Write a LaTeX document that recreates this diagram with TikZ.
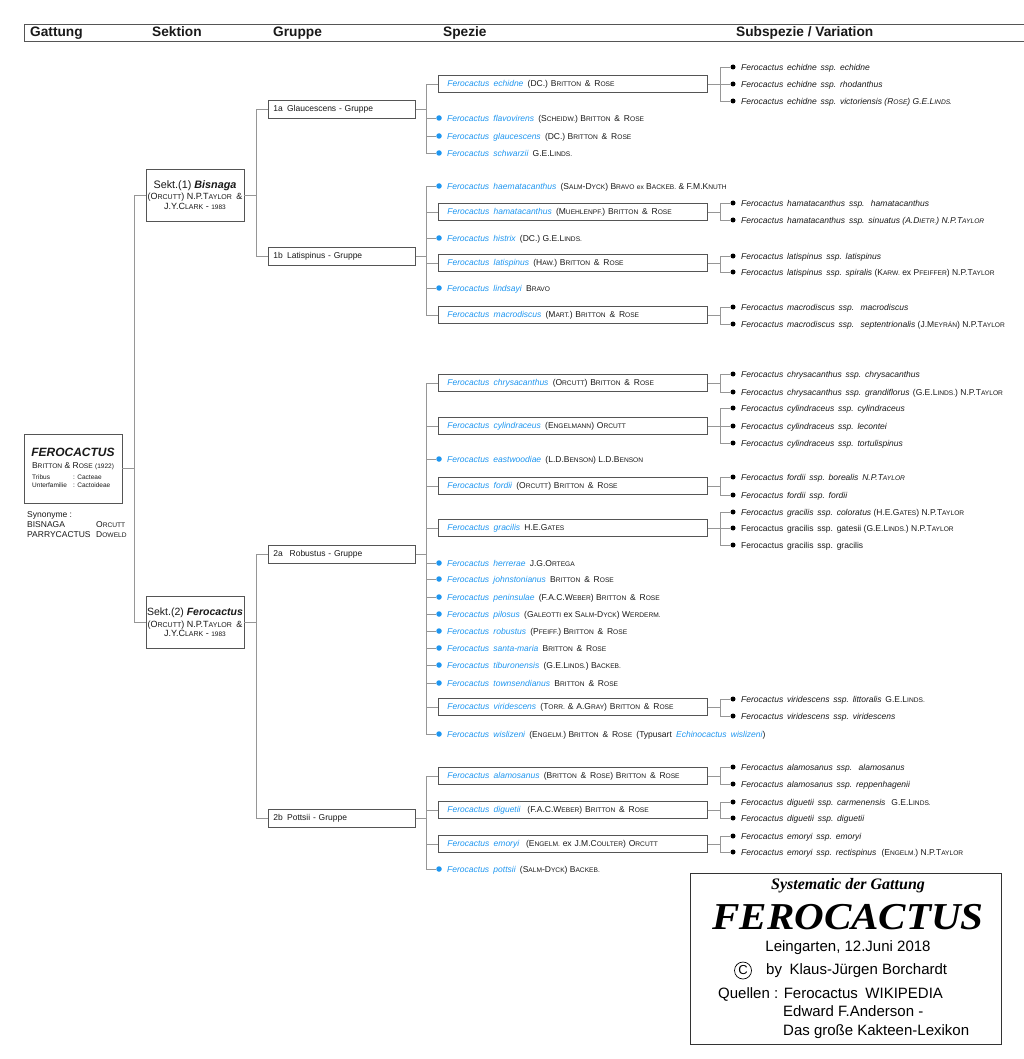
\documentclass[tikz,border=0pt]{standalone}
\usepackage{fontspec}
\usepackage{graphicx}
\setmainfont{Liberation Sans}
\newfontfamily\serifont{Liberation Serif}
\definecolor{fblue}{RGB}{30,150,240}
\definecolor{linegray}{RGB}{150,150,150}
\definecolor{boxgray}{RGB}{85,85,85}
\definecolor{textdark}{RGB}{25,25,25}
\makeatletter
\def\fsc#1{\fsc@#1\@nil}
\def\fsc@#1#2\@nil{#1{\fontsize{\fpeval{0.78*\f@size}}{1}\selectfont\MakeUppercase{#2}}}
\newcommand\smx[1]{{\fontsize{\fpeval{0.78*\f@size}}{1}\selectfont #1}}
\makeatother
\newcommand\spfont{\fontsize{8.5}{10}\selectfont}
\newcommand\sspfont{\fontsize{8.5}{10}\selectfont}
\newcommand\BR{\fsc{Britton}\hspace{.45em}\&\hspace{.45em}\fsc{Rose}}
\newcommand\spn[2]{{\color{fblue}\itshape Ferocactus\hspace{.5em}#1}\hspace{.5em}#2}
\newcommand\ssn[2]{\itshape Ferocactus\hspace{.45em}#1\hspace{.45em}ssp.\hspace{.45em}#2}
\newcommand\dotsp[3]{\node[bdot] (d#1) at (439,#2) {}; \node[sptext] (t#1) at (447,#2) {#3};}
\newcommand\boxsp[3]{\node[spbox] (d#1) at (438,#2) {#3};}
\newcommand\subsp[3]{\node[kdot] (k#1) at (733,#2) {}; \node[ssptext] (s#1) at (741,#2) {#3};}
\tikzset{
  conn/.style={draw=linegray, line width=0.8pt},
  spbox/.style={draw=boxgray, line width=0.8pt, anchor=west, text width=251pt, inner xsep=9pt, inner ysep=0pt, minimum height=17pt, align=left, font=\spfont, text=textdark},
  sptext/.style={anchor=mid west, inner sep=0pt, font=\spfont, text=textdark, yshift=-0.8pt},
  bdot/.style={circle, fill=fblue, inner sep=0pt, minimum size=5.5pt},
  kdot/.style={circle, fill=black, inner sep=0pt, minimum size=5pt},
  ssptext/.style={anchor=mid west, inner sep=0pt, font=\sspfont, text=textdark, yshift=-0.8pt},
  grpbox/.style={draw=boxgray, line width=0.8pt, anchor=west, text width=137pt, inner xsep=5pt, inner ysep=0pt, minimum height=18pt, align=left, font=\spfont, text=textdark},
  sektbox/.style={draw=boxgray, line width=0.9pt, minimum width=98pt, minimum height=52pt, align=center, inner sep=1pt, text=textdark, font=\fontsize{9}{9.5}\selectfont},
  hdrtext/.style={anchor=mid west, inner sep=0pt, font=\fontsize{13.7}{15}\selectfont\bfseries, text=textdark},
  plain/.style={inner sep=0pt, text=textdark},
}
\begin{document}
\begin{tikzpicture}[x=1pt, y=-1pt]
\useasboundingbox (0,0) rectangle (1024,1059);
\fill[white] (0,0) rectangle (1024,1059);

% header
\draw[draw=boxgray, line width=0.8pt] (1024,24) -- (24,24) -- (24,41) -- (1024,41);
\node[hdrtext] (hgat) at (30,34) {Gattung};
\node[hdrtext] (hsek) at (152,34) {Sektion};
\node[hdrtext] (hgru) at (273,34) {Gruppe};
\node[hdrtext] (hspe) at (443,34) {Spezie};
\node[hdrtext] (hsub) at (736,34) {Subspezie / Variation};

% root
\node[draw=boxgray, line width=0.9pt, minimum width=98pt, minimum height=69pt] (root) at (73,468.5) {};
\node[plain, font=\fontsize{12}{14}\selectfont\bfseries\itshape] (rtitle) at (73,452) {FEROCACTUS};
\node[plain, font=\fontsize{8.5}{10}\selectfont] (rauth) at (73,466) {\fsc{Britton} \& \fsc{Rose} {\fontsize{6.5}{7}\selectfont(1922)}};
\node[plain, anchor=mid west, font=\fontsize{6.5}{7}\selectfont] (rtrib) at (32,477) {Tribus};
\node[plain, anchor=mid west, font=\fontsize{6.5}{7}\selectfont] (rtribv) at (73,477) {: Cacteae};
\node[plain, anchor=mid west, font=\fontsize{6.5}{7}\selectfont] (runt) at (32,485) {Unterfamilie};
\node[plain, anchor=mid west, font=\fontsize{6.5}{7}\selectfont] (runtv) at (73,485) {: Cactoideae};
\node[plain, anchor=mid west, font=\fontsize{8.5}{10}\selectfont] (syn) at (27,515) {Synonyme :};
\node[plain, anchor=mid west, font=\fontsize{8.5}{10}\selectfont] (syn1) at (27,525) {BISNAGA};
\node[plain, anchor=mid west, font=\fontsize{8.5}{10}\selectfont] (syn1a) at (96,525) {\fsc{Orcutt}};
\node[plain, anchor=mid west, font=\fontsize{8.5}{10}\selectfont] (syn2) at (27,535) {PARRYCACTUS};
\node[plain, anchor=mid west, font=\fontsize{8.5}{10}\selectfont] (syn2a) at (96,535) {\fsc{Doweld}};

% sections
\node[sektbox] (s1) at (195,195) {{\fontsize{10.8}{12}\selectfont Sekt.(1) \textbf{\textit{Bisnaga}}}\\[2pt](\fsc{Orcutt}) N.P.\fsc{Taylor}\hspace{.5em}\&\\J.Y.\fsc{Clark} - {\fontsize{6.5}{7}\selectfont 1983}};
\node[sektbox] (s2) at (195,622.5) {{\fontsize{10.5}{12}\selectfont Sekt.(2) \textbf{\textit{Ferocactus}}}\\[2pt](\fsc{Orcutt}) N.P.\fsc{Taylor}\hspace{.5em}\&\\J.Y.\fsc{Clark} - {\fontsize{6.5}{7}\selectfont 1983}};
\coordinate (jroot) at (134,468.5);
\draw[conn] (root.east) -- (jroot);
\draw[conn] (jroot) |- (s1.west);
\draw[conn] (jroot) |- (s2.west);

% groups
\node[grpbox] (g1a) at (268,109) {1a\hspace{.5em}Glaucescens - Gruppe};
\node[grpbox] (g1b) at (268,256) {1b\hspace{.5em}Latispinus - Gruppe};
\node[grpbox] (g2a) at (268,554) {2a\hspace{.8em}Robustus - Gruppe};
\node[grpbox] (g2b) at (268,818) {2b\hspace{.5em}Pottsii - Gruppe};
\coordinate (js1) at (256,195);
\coordinate (js2) at (256,622.5);
\draw[conn] (s1.east) -- (js1);
\draw[conn] (js1) |- (g1a.west);
\draw[conn] (js1) |- (g1b.west);
\draw[conn] (s2.east) -- (js2);
\draw[conn] (js2) |- (g2a.west);
\draw[conn] (js2) |- (g2b.west);

% species group 1a
\boxsp{echidne}{84}{\spn{echidne}{(DC.) \BR}}
\dotsp{flav}{118}{\spn{flavovirens}{(\fsc{Scheidw.}) \BR}}
\dotsp{glauc}{136}{\spn{glaucescens}{(DC.) \BR}}
\dotsp{schw}{153}{\spn{schwarzii}{G.E.\fsc{Linds.}}}
% group 1b
\dotsp{haem}{186}{\spn{haematacanthus}{(\fsc{Salm}-\fsc{Dyck}) \fsc{Bravo} \smx{ex} \fsc{Backeb.} \& F.M.\fsc{Knuth}}}
\boxsp{hamat}{212}{\spn{hamatacanthus}{(\fsc{Muehlenpf.}) \BR}}
\dotsp{hist}{238}{\spn{histrix}{(DC.) G.E.\fsc{Linds.}}}
\boxsp{latis}{263}{\spn{latispinus}{(\fsc{Haw.}) \BR}}
\dotsp{linds}{288}{\spn{lindsayi}{\fsc{Bravo}}}
\boxsp{macro}{315}{\spn{macrodiscus}{(\fsc{Mart.}) \BR}}
% group 2a
\boxsp{chrys}{383}{\spn{chrysacanthus}{(\fsc{Orcutt}) \BR}}
\boxsp{cylin}{426}{\spn{cylindraceus}{(\fsc{Engelmann}) \fsc{Orcutt}}}
\dotsp{eastw}{459}{\spn{eastwoodiae}{(L.D.\fsc{Benson}) L.D.\fsc{Benson}}}
\boxsp{fordii}{486}{\spn{fordii}{(\fsc{Orcutt}) \BR}}
\boxsp{grac}{528}{\spn{gracilis}{H.E.\fsc{Gates}}}
\dotsp{herr}{563}{\spn{herrerae}{J.G.\fsc{Ortega}}}
\dotsp{johns}{579}{\spn{johnstonianus}{\BR}}
\dotsp{penin}{597}{\spn{peninsulae}{(F.A.C.\fsc{Weber}) \BR}}
\dotsp{pilos}{614}{\spn{pilosus}{(\fsc{Galeotti} ex \fsc{Salm}-\fsc{Dyck}) \fsc{Werderm.}}}
\dotsp{robus}{631}{\spn{robustus}{(\fsc{Pfeiff.}) \BR}}
\dotsp{santa}{648}{\spn{santa-maria}{\BR}}
\dotsp{tibur}{665}{\spn{tiburonensis}{(G.E.\fsc{Linds.}) \fsc{Backeb.}}}
\dotsp{towns}{683}{\spn{townsendianus}{\BR}}
\boxsp{virid}{707}{\spn{viridescens}{(\fsc{Torr.} \& A.\fsc{Gray}) \BR}}
\dotsp{wisl}{734}{\spn{wislizeni}{(\fsc{Engelm.}) \BR\hspace{.5em}(Typusart\hspace{.5em}{\color{fblue}\itshape Echinocactus\hspace{.5em}wislizeni})}}
% group 2b
\boxsp{alamo}{776}{\spn{alamosanus}{(\BR) \BR}}
\boxsp{digue}{810}{\spn{diguetii}{\hspace{.3em}(F.A.C.\fsc{Weber}) \BR}}
\boxsp{emory}{844}{\spn{emoryi}{\hspace{.3em}(\fsc{Engelm.} ex J.M.\fsc{Coulter}) \fsc{Orcutt}}}
\dotsp{potts}{869}{\spn{pottsii}{(\fsc{Salm}-\fsc{Dyck}) \fsc{Backeb.}}}

\coordinate (j1a) at (426,109);
\coordinate (j1b) at (426,256);
\coordinate (j2a) at (426,554);
\coordinate (j2b) at (426,818);
\draw[conn] (g1a.east) -- (j1a);
\draw[conn] (g1b.east) -- (j1b);
\draw[conn] (g2a.east) -- (j2a);
\draw[conn] (g2b.east) -- (j2b);
\foreach \n in {echidne,flav,glauc,schw} \draw[conn] (j1a) |- (d\n);
\foreach \n in {haem,hamat,hist,latis,linds,macro} \draw[conn] (j1b) |- (d\n);
\foreach \n in {chrys,cylin,eastw,fordii,grac,herr,johns,penin,pilos,robus,santa,tibur,towns,virid,wisl} \draw[conn] (j2a) |- (d\n);
\foreach \n in {alamo,digue,emory,potts} \draw[conn] (j2b) |- (d\n);

% subspecies
\subsp{ech1}{67}{\ssn{echidne}{echidne}}
\subsp{ech2}{84}{\ssn{echidne}{rhodanthus}}
\subsp{ech3}{101}{\ssn{echidne}{victoriensis (\fsc{Rose}) G.E.\fsc{Linds.}}}
\subsp{ham1}{203}{\ssn{hamatacanthus}{\hspace{.3em}hamatacanthus}}
\subsp{ham2}{220}{\ssn{hamatacanthus}{sinuatus (A.\fsc{Dietr.}) N.P.\fsc{Taylor}}}
\subsp{lat1}{256}{\ssn{latispinus}{latispinus}}
\subsp{lat2}{272}{\ssn{latispinus}{spiralis} {\upshape(\fsc{Karw.} ex \fsc{Pfeiffer}) N.P.\fsc{Taylor}}}
\subsp{mac1}{307}{\ssn{macrodiscus}{\hspace{.3em}macrodiscus}}
\subsp{mac2}{324}{\ssn{macrodiscus}{\hspace{.3em}septentrionalis} {\upshape(J.\fsc{Meyrán}) N.P.\fsc{Taylor}}}
\subsp{chr1}{374}{\ssn{chrysacanthus}{chrysacanthus}}
\subsp{chr2}{392}{\ssn{chrysacanthus}{grandiflorus}\hspace{.4em}{\upshape(G.E.\fsc{Linds.}) N.P.\fsc{Taylor}}}
\subsp{cyl1}{408}{\ssn{cylindraceus}{cylindraceus}}
\subsp{cyl2}{426}{\ssn{cylindraceus}{lecontei}}
\subsp{cyl3}{443}{\ssn{cylindraceus}{tortulispinus}}
\subsp{for1}{477}{\ssn{fordii}{borealis\hspace{.45em}N.P.\fsc{Taylor}}}
\subsp{for2}{495}{\ssn{fordii}{fordii}}
\subsp{gra1}{512}{\ssn{gracilis}{coloratus} {\upshape(H.E.\fsc{Gates}) N.P.\fsc{Taylor}}}
\subsp{gra2}{528}{\upshape Ferocactus\hspace{.45em}gracilis\hspace{.45em}ssp.\hspace{.45em}gatesii (G.E.\fsc{Linds.}) N.P.\fsc{Taylor}}
\subsp{gra3}{545}{\upshape Ferocactus\hspace{.45em}gracilis\hspace{.45em}ssp.\hspace{.45em}gracilis}
\subsp{vir1}{699}{\ssn{viridescens}{littoralis}\hspace{.45em}{\upshape G.E.\fsc{Linds.}}}
\subsp{vir2}{716}{\ssn{viridescens}{viridescens}}
\subsp{ala1}{767}{\ssn{alamosanus}{\hspace{.3em}alamosanus}}
\subsp{ala2}{784}{\ssn{alamosanus}{reppenhagenii}}
\subsp{dig1}{802}{\ssn{diguetii}{carmenensis}\hspace{.7em}{\upshape G.E.\fsc{Linds.}}}
\subsp{dig2}{818}{\ssn{diguetii}{diguetii}}
\subsp{emo1}{836}{\ssn{emoryi}{emoryi}}
\subsp{emo2}{852}{\ssn{emoryi}{rectispinus}\hspace{.6em}{\upshape(\fsc{Engelm.}) N.P.\fsc{Taylor}}}

\coordinate (jech) at (720,84);
\coordinate (jham) at (720,212);
\coordinate (jlat) at (720,263);
\coordinate (jmac) at (720,315);
\coordinate (jchr) at (720,383);
\coordinate (jcyl) at (720,426);
\coordinate (jfor) at (720,486);
\coordinate (jgra) at (720,528);
\coordinate (jvir) at (720,707);
\coordinate (jala) at (720,776);
\coordinate (jdig) at (720,810);
\coordinate (jemo) at (720,844);
\foreach \b/\j in {echidne/ech,hamat/ham,latis/lat,macro/mac,chrys/chr,cylin/cyl,fordii/for,grac/gra,virid/vir,alamo/ala,digue/dig,emory/emo} \draw[conn] (d\b.east) -- (j\j);
\foreach \k in {ech1,ech2,ech3} \draw[conn] (jech) |- (k\k);
\foreach \k in {ham1,ham2} \draw[conn] (jham) |- (k\k);
\foreach \k in {lat1,lat2} \draw[conn] (jlat) |- (k\k);
\foreach \k in {mac1,mac2} \draw[conn] (jmac) |- (k\k);
\foreach \k in {chr1,chr2} \draw[conn] (jchr) |- (k\k);
\foreach \k in {cyl1,cyl2,cyl3} \draw[conn] (jcyl) |- (k\k);
\foreach \k in {for1,for2} \draw[conn] (jfor) |- (k\k);
\foreach \k in {gra1,gra2,gra3} \draw[conn] (jgra) |- (k\k);
\foreach \k in {vir1,vir2} \draw[conn] (jvir) |- (k\k);
\foreach \k in {ala1,ala2} \draw[conn] (jala) |- (k\k);
\foreach \k in {dig1,dig2} \draw[conn] (jdig) |- (k\k);
\foreach \k in {emo1,emo2} \draw[conn] (jemo) |- (k\k);

% info box
\node[draw=black!80, line width=0.9pt, minimum width=311pt, minimum height=171pt, inner sep=0pt] (info) at (845.5,958.5) {};
\node[plain, text=black, font=\serifont\fontsize{16}{18}\selectfont\bfseries\itshape] (isys) at (848,886) {Systematic der Gattung};
\node[plain, text=black, font=\serifont\fontsize{38}{40}\selectfont\bfseries\itshape] (iferoc) at (848,917) {\scalebox{1.08}[1]{FEROCACTUS}};
\node[plain, text=black, font=\fontsize{15}{17}\selectfont] (idate) at (848,948) {Leingarten, 12.Juni 2018};
\node[circle, draw=black, line width=0.7pt, inner sep=0pt, minimum size=17pt, text=black, font=\fontsize{13}{15}\selectfont] (icopy) at (743,970.5) {C};
\node[plain, anchor=mid west, text=black, font=\fontsize{15}{17}\selectfont] (iby) at (766,972) {by\hspace{.5em}Klaus-Jürgen Borchardt};
\node[plain, anchor=mid west, text=black, font=\fontsize{15}{17}\selectfont] (iq1) at (718,996) {Quellen : Ferocactus\hspace{.5em}WIKIPEDIA};
\node[plain, anchor=mid west, text=black, font=\fontsize{15}{17}\selectfont] (iq2) at (783,1014) {Edward F.Anderson -};
\node[plain, anchor=mid west, text=black, font=\fontsize{15}{17}\selectfont] (iq3) at (783,1033) {Das große Kakteen-Lexikon};
\end{tikzpicture}
\end{document}
